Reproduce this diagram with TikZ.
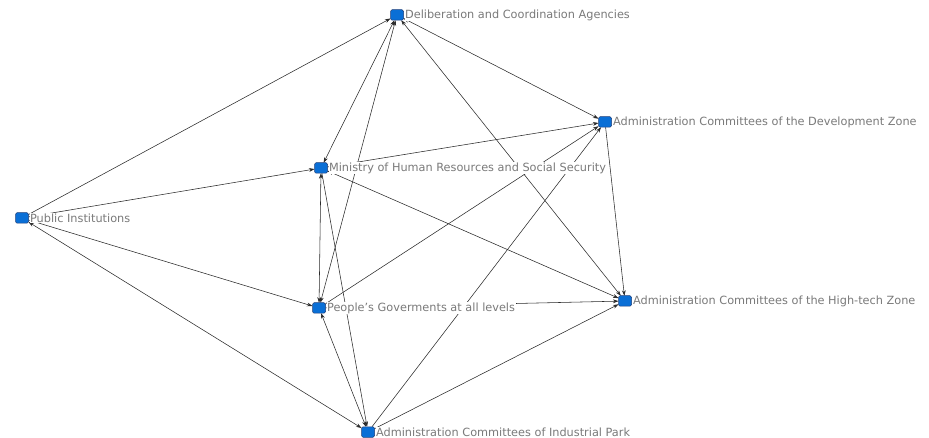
\documentclass[tikz,border=0pt]{standalone}
\usepackage{fontspec}
\setmainfont{DejaVu Sans}
\usetikzlibrary{arrows.meta,backgrounds}
\definecolor{nodeblue}{HTML}{0A6FD6}
\definecolor{nodeedge}{HTML}{1F3F7A}
\definecolor{lblgray}{HTML}{7A7A7A}
\definecolor{edgegray}{HTML}{2A2A2A}
\begin{document}
\begin{tikzpicture}[x=1pt,y=-1pt,
  actor/.style={draw=nodeedge,line width=0.5pt,fill=nodeblue,rounded corners=1.5pt,
    minimum width=13pt,minimum height=10.5pt,inner sep=0pt,outer sep=0pt},
  lbl/.style={font=\fontsize{11.3}{13}\selectfont,text=lblgray,fill=white,inner sep=0.6pt,anchor=west},
  tie/.style={draw=edgegray,line width=0.55pt,-{Stealth[length=5.5pt,width=3.8pt]}},
  both/.style={draw=edgegray,line width=0.55pt,{Stealth[length=5.5pt,width=3.8pt]}-{Stealth[length=5.5pt,width=3.8pt]}}]
\useasboundingbox (0,0) rectangle (929,438);
\node[actor,label={[lbl,label distance=0.8pt]east:Deliberation and Coordination Agencies}] (dca) at (397,15) {};
\node[actor,label={[lbl,label distance=0.8pt]east:Ministry of Human Resources and Social Security}] (mh) at (321,168) {};
\node[actor,label={[lbl,label distance=0.8pt]east:Administration Committees of the Development Zone}] (dz) at (605,122) {};
\node[actor,label={[lbl,label distance=0.8pt]east:Public Institutions}] (pi) at (22,218) {};
\node[actor,label={[lbl,label distance=0.8pt]east:People's Goverments at all levels}] (pg) at (319,308) {};
\node[actor,label={[lbl,label distance=0.8pt]east:Administration Committees of the High-tech Zone}] (hz) at (625,301) {};
\node[actor,label={[lbl,label distance=0.8pt]east:Administration Committees of Industrial Park}] (ip) at (368,432) {};
\begin{scope}[on background layer]
\draw[tie] (pi) -- (dca);
\draw[tie] (pi) -- (mh);
\draw[tie] (pi) -- (pg);
\draw[both] (pi) -- (ip);
\draw[both] (dca) -- (mh);
\draw[both] (dca) -- (pg);
\draw[both] (dca) -- (hz);
\draw[both] (dca) -- (dz);
\draw[tie] (mh) -- (dz);
\draw[both] (mh) -- (hz);
\draw[both] (mh) -- (pg);
\draw[tie] (mh) -- (ip);
\draw[tie] (pg) -- (dz);
\draw[tie] (pg) -- (hz);
\draw[both] (pg) -- (ip);
\draw[tie] (ip) -- (dz);
\draw[tie] (ip) -- (hz);
\draw[tie] (dz) -- (hz);
\end{scope}
\end{tikzpicture}
\end{document}
